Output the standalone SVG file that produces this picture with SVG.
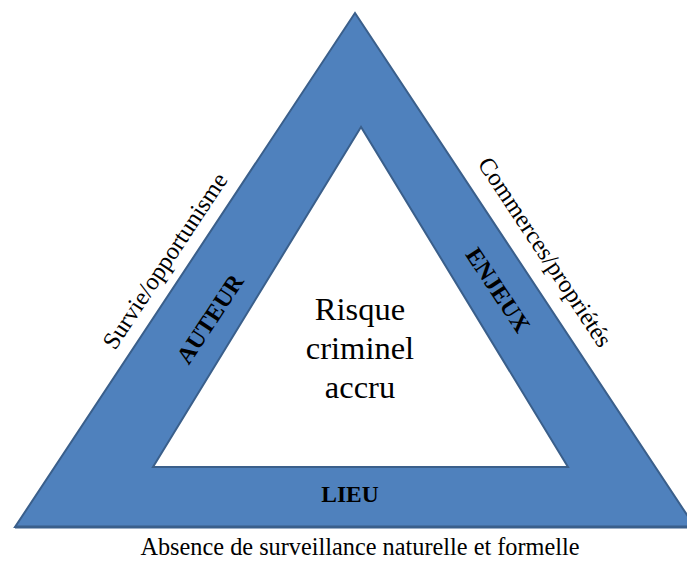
<svg xmlns="http://www.w3.org/2000/svg" width="687" height="562" viewBox="0 0 687 562">
<style>
.tri{fill:#4F81BD;stroke:#3A5F8B;stroke-width:2;stroke-linejoin:miter}
</style>
<rect width="687" height="562" fill="#fff"/>
<g id="triangle">
<path class="tri" fill-rule="evenodd" d="M355,13 L695,527 L15,527 Z M361,127 L153,467 L568,467 Z"/>
<line x1="15" y1="527" x2="687" y2="527" stroke="#3A5F8B" stroke-width="3"/>
</g>
<g font-family="Liberation Serif, Times New Roman, serif" fill="#000" text-anchor="middle">
<g id="center" font-size="32.5">
<text x="360" y="320">Risque</text>
<text x="360" y="359">criminel</text>
<text x="360" y="398">accru</text>
</g>
<g id="auteur" font-weight="bold" font-size="24">
<text transform="translate(210,319) rotate(-56.5)" y="8">AUTEUR</text>
</g>
<g id="enjeux" font-weight="bold" font-size="24">
<text transform="translate(498,290) rotate(56.5)" y="8">ENJEUX</text>
</g>
<g id="lieu" font-weight="bold" font-size="23.5">
<text x="350" y="502">LIEU</text>
</g>
<g id="survie" font-size="24.5">
<text transform="translate(165,261) rotate(-56.5)" y="8">Survie/opportunisme</text>
</g>
<g id="commerces" font-size="24.5">
<text transform="translate(545,252) rotate(56.5)" y="8">Commerces/propriétés</text>
</g>
<g id="absence" font-size="24.3">
<text x="360" y="555">Absence de surveillance naturelle et formelle</text>
</g>
</g>
</svg>
